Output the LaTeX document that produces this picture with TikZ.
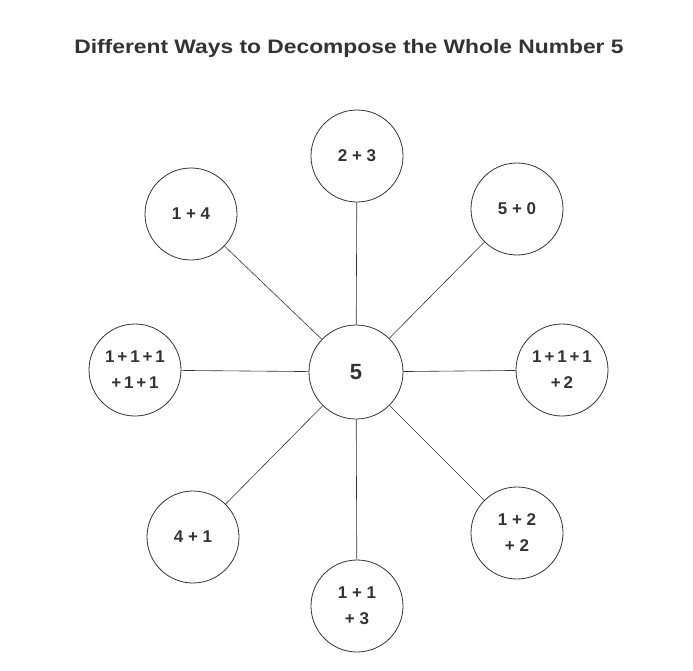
\documentclass[tikz,border=0pt]{standalone}
\usepackage{fontspec}
\setmainfont{Liberation Sans}
\definecolor{ink}{HTML}{333333}
\begin{document}
\begin{tikzpicture}[x=1pt,y=-1pt,
  circ/.style={draw=ink,circle,minimum size=92pt,inner sep=0pt,align=center,text=ink,font=\bfseries\fontsize{17}{26}\selectfont,line width=0.8pt},
  link/.style={draw=ink,line width=0.6pt}]
\useasboundingbox (0,0) rectangle (693,670);
\node[text=ink,font=\bfseries\fontsize{19.5}{22}\selectfont] (title) at (349,48) {\scalebox{1.17}[1]{Different Ways to Decompose the Whole Number 5}};
\node[circ,minimum size=94pt,font=\bfseries\fontsize{22}{24}\selectfont] (c) at (356,372) {5};
\node[circ] (a) at (357,156) {2 + 3};
\node[circ] (b) at (191,214) {1 + 4};
\node[circ] (d) at (517,209) {5 + 0};
\node[circ] (e) at (135,370) {1\,+\,1\,+\,1\\+\,1\,+\,1};
\node[circ] (f) at (562,370) {1\,+\,1\,+\,1\\+\,2};
\node[circ] (g) at (193,537) {4 + 1};
\node[circ] (h) at (517,533) {1 + 2\\+ 2};
\node[circ] (i) at (357,606) {1 + 1\\+ 3};
\foreach \n in {a,b,d,e,f,g,h,i} \draw[link] (c) -- (\n);
\end{tikzpicture}
\end{document}
